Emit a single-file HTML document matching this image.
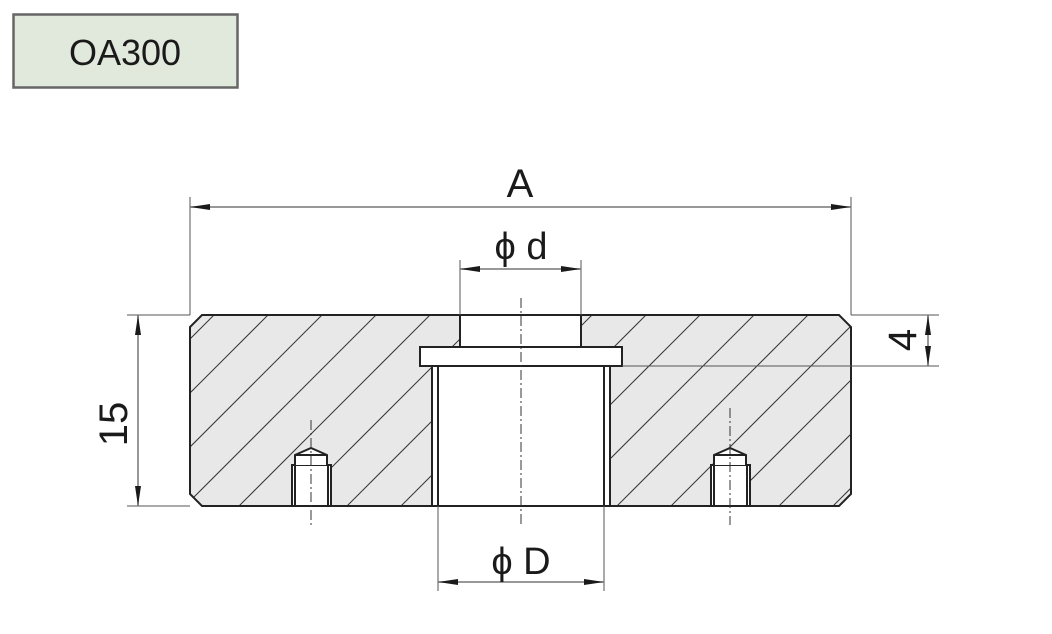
<!DOCTYPE html>
<html><head><meta charset="utf-8"><style>
html,body{margin:0;padding:0;background:#fff;width:1052px;height:634px;overflow:hidden;}
svg{display:block;}
text{font-family:"Liberation Sans","DejaVu Sans",sans-serif;fill:#1a1a1a;}
</style></head><body>
<svg width="1052" height="634" viewBox="0 0 1052 634" xmlns="http://www.w3.org/2000/svg">
<defs>
<clipPath id="body"><polygon points="202,315 839,315 851,327 851,494 839,506 202,506 190,494 190,327"/></clipPath>
<marker id="ar" viewBox="0 0 20 6" refX="20" refY="3" markerWidth="20" markerHeight="6" markerUnits="userSpaceOnUse" orient="auto-start-reverse"><path d="M0,0 L20,3 L0,6 z" fill="#1a1a1a"/></marker>
</defs>
<rect x="13.5" y="14.5" width="224" height="73" fill="#e1e8dc" stroke="#666" stroke-width="2.5"/>
<text x="125" y="65" font-size="36" text-anchor="middle">OA300</text>

<polygon points="202,315 839,315 851,327 851,494 839,506 202,506 190,494 190,327" fill="#e8e8e8"/>
<g clip-path="url(#body)" stroke="#333" stroke-width="1">
<line x1="583" y1="0" x2="0" y2="583"/><line x1="637" y1="0" x2="0" y2="637"/><line x1="691" y1="0" x2="0" y2="691"/><line x1="529" y1="0" x2="0" y2="529"/><line x1="475" y1="0" x2="0" y2="475"/><line x1="745" y1="0" x2="0" y2="745"/><line x1="799" y1="0" x2="0" y2="799"/><line x1="853" y1="0" x2="0" y2="853"/><line x1="907" y1="0" x2="0" y2="907"/><line x1="961" y1="0" x2="0" y2="961"/><line x1="1015" y1="0" x2="0" y2="1015"/><line x1="1069" y1="0" x2="0" y2="1069"/><line x1="1123" y1="0" x2="0" y2="1123"/><line x1="1177" y1="0" x2="0" y2="1177"/><line x1="1231" y1="0" x2="0" y2="1231"/><line x1="1285" y1="0" x2="0" y2="1285"/><line x1="1339" y1="0" x2="0" y2="1339"/><line x1="1393" y1="0" x2="0" y2="1393"/><line x1="1447" y1="0" x2="0" y2="1447"/>
</g>
<rect x="460" y="315" width="121" height="32" fill="#fff"/>
<rect x="432" y="366" width="178" height="140" fill="#fff"/>
<rect x="420" y="347" width="202" height="19" fill="#fff"/>
<g fill="none" stroke="#222" stroke-width="2">
<rect x="292" y="465" width="39" height="41" fill="#fff"/>
<path d="M295,465 L295,455 L311,448 L327,455 L327,465" fill="#fff"/>
<line x1="296" y1="455" x2="326" y2="455"/>
<line x1="295" y1="465" x2="295" y2="506"/><line x1="328" y1="465" x2="328" y2="506"/>
<rect x="711" y="465" width="39" height="41" fill="#fff"/>
<path d="M714,465 L714,455 L730,448 L746,455 L746,465" fill="#fff"/>
<line x1="715" y1="455" x2="745" y2="455"/>
<line x1="714" y1="465" x2="714" y2="506"/><line x1="747" y1="465" x2="747" y2="506"/>
</g>
<polygon points="202,315 839,315 851,327 851,494 839,506 202,506 190,494 190,327" fill="none" stroke="#222" stroke-width="2"/>
<g stroke="#222" stroke-width="2" fill="none">
<polyline points="460,315 460,347"/><polyline points="581,315 581,347"/>
<rect x="420" y="347" width="202" height="19"/>
<line x1="432" y1="366" x2="432" y2="506"/><line x1="438" y1="366" x2="438" y2="506"/>
<line x1="604" y1="366" x2="604" y2="506"/><line x1="610" y1="366" x2="610" y2="506"/>
</g>
<g stroke="#333" stroke-width="1" stroke-dasharray="10,3,2,3">
<line x1="521" y1="298" x2="521" y2="525"/>
<line x1="311" y1="420" x2="311" y2="525"/>
<line x1="730" y1="408" x2="730" y2="525"/>
</g>
<g stroke="#555" stroke-width="1">
<line x1="190" y1="197" x2="190" y2="315"/><line x1="851" y1="197" x2="851" y2="315"/>
<line x1="460" y1="260" x2="460" y2="315"/><line x1="581" y1="260" x2="581" y2="315"/>
<line x1="438" y1="506" x2="438" y2="591"/><line x1="604" y1="506" x2="604" y2="591"/>
<line x1="127" y1="315" x2="190" y2="315"/><line x1="127" y1="506" x2="190" y2="506"/>
<line x1="851" y1="315" x2="939" y2="315"/><line x1="622" y1="366" x2="939" y2="366"/>
</g>
<g stroke="#777" stroke-width="1.5" marker-start="url(#ar)" marker-end="url(#ar)">
<line x1="190" y1="207" x2="851" y2="207"/>
<line x1="460" y1="269" x2="581" y2="269"/>
<line x1="438" y1="582" x2="604" y2="582"/>
<line x1="138" y1="315" x2="138" y2="506"/>
<line x1="928" y1="315" x2="928" y2="366"/>
</g>
<text x="520" y="197" font-size="40" text-anchor="middle">A</text>
<text x="521" y="259" font-size="38" text-anchor="middle">ϕ d</text>
<text x="521" y="574" font-size="38" text-anchor="middle">ϕ D</text>
<text transform="translate(127,424) rotate(-90)" font-size="40" text-anchor="middle">15</text>
<text transform="translate(916,340) rotate(-90)" font-size="40" text-anchor="middle">4</text>
</svg>
</body></html>
